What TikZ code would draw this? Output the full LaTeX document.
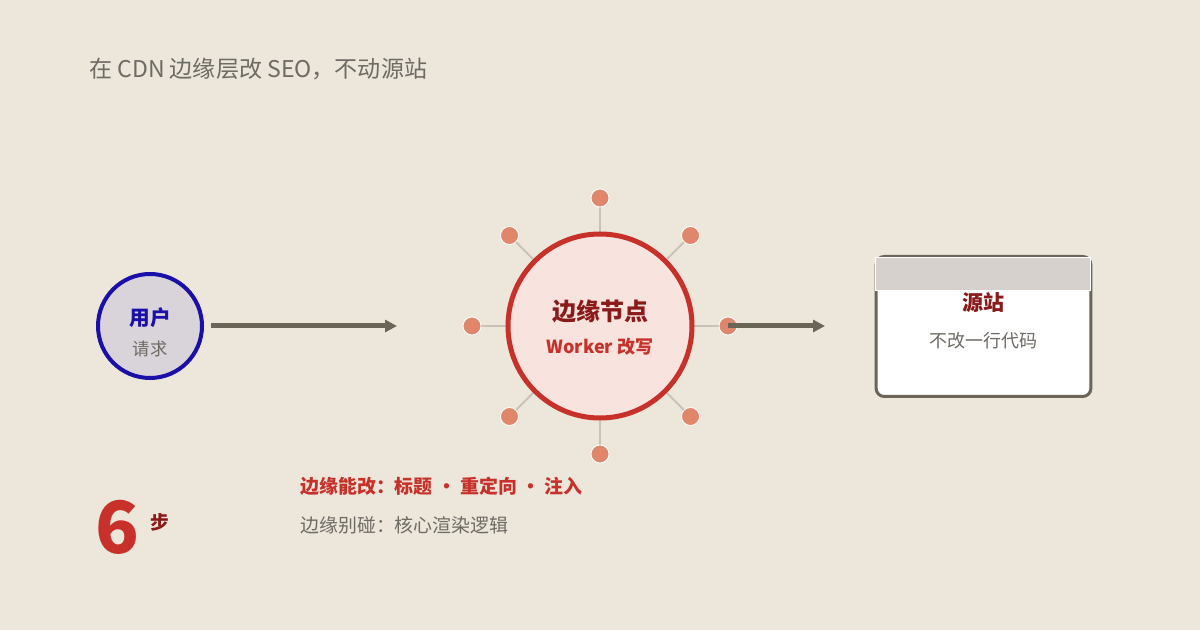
\documentclass[tikz,border=0pt]{standalone}
\usepackage{fontspec}
\setmainfont{Noto Sans CJK SC}
\newfontfamily\cjk{Noto Sans CJK SC}
\usetikzlibrary{arrows.meta,calc}
\definecolor{bg}{HTML}{ECE7DA}
\definecolor{inkgray}{HTML}{6B6558}
\definecolor{txtgray}{HTML}{6E6A64}
\definecolor{userblue}{HTML}{1A0FA8}
\definecolor{userfill}{HTML}{D9D3DA}
\definecolor{edgered}{HTML}{C8302A}
\definecolor{edgefill}{HTML}{F8E3DF}
\definecolor{darkred}{HTML}{8B1A1A}
\definecolor{dotfill}{HTML}{E0876B}
\definecolor{spoke}{HTML}{C8C2B8}
\definecolor{headgray}{HTML}{D6D1CC}
\tikzset{
  flow/.style={draw=inkgray, line width=3.75pt, -{Triangle[length=9pt,width=9pt]}},
  sat/.style={circle, fill=dotfill, draw=white, line width=0.6pt, minimum size=13.5pt, inner sep=0pt},
  spokeline/.style={draw=spoke, line width=1.5pt},
  lbl/.style={inner sep=0pt, anchor=center},
}
\begin{document}
\begin{tikzpicture}[x=0.75pt,y=-0.75pt]
\fill[bg] (0,0) rectangle (1200,630);
\useasboundingbox (0,0) rectangle (1200,630);
% title
\node[lbl, anchor=west, text=txtgray, font=\fontsize{17.3pt}{19pt}\selectfont] (title) at (89,69) {在 CDN 边缘层改 SEO，不动源站};
% user
\node[circle, draw=userblue, fill=userfill, line width=3pt, minimum size=78pt, inner sep=0pt] (user) at (150,326) {};
\node[lbl, text=userblue, font=\bfseries\fontsize{15.5pt}{16pt}\selectfont] (userT) at (150,318) {用户};
\node[lbl, text=txtgray, font=\fontsize{13pt}{14pt}\selectfont] (userS) at (150,349) {请求};
% edge node
\coordinate (ec) at (600,326);
\foreach \a [count=\i] in {0,45,90,135,180,225,270,315}{
  \draw[spokeline] ($(ec)+(\a:92)$) -- ($(ec)+(\a:128)$);
}
\node[circle, draw=edgered, fill=edgefill, line width=3.75pt, minimum size=138pt, inner sep=0pt] (edge) at (ec) {};
\foreach \a [count=\i] in {0,45,90,135,180,225,270,315}{
  \node[sat] (d\i) at ($(ec)+(\a:128)$) {};
}
\node[lbl, text=darkred, font=\bfseries\fontsize{18pt}{20pt}\selectfont] (edgeT) at (600,312) {边缘节点};
\node[lbl, text=edgered, font=\bfseries\fontsize{13.5pt}{15pt}\selectfont] (edgeS) at (600,347) {Worker 改写};
% origin box
\node[draw=inkgray, fill=white, line width=2.25pt, rounded corners=6pt, minimum width=161pt, minimum height=105pt, inner sep=0pt] (origin) at (983.5,326.5) {};
\node[fill=headgray, draw=white, line width=0.5pt, minimum width=161pt, minimum height=24.75pt, inner sep=0pt] (head) at (983,273.5) {};
\node[lbl, text=darkred, font=\bfseries\fontsize{15.75pt}{17pt}\selectfont] (originT) at (983,303) {源站};
\node[lbl, text=txtgray, font=\fontsize{13.5pt}{15pt}\selectfont] (originS) at (983,341) {不改一行代码};
% arrows
\coordinate (a1) at (397,326);
\coordinate (a2) at (825,326);
\draw[flow] ([xshift=5.5pt]user.east) -- (a1);
\draw[flow] (d1.center) -- (a2);
% bottom
\node[lbl, text=edgered, font=\bfseries\fontsize{54pt}{56pt}\selectfont] (num) at (117,527) {6};
\node[lbl, text=darkred, font=\bfseries\fontsize{14pt}{15pt}\selectfont] (bu) at (160,522) {步};
\node[lbl, anchor=west, text=edgered, font=\bfseries\fontsize{14.2pt}{16pt}\selectfont] (can) at (300,486) {边缘能改：标题 · 重定向 · 注入};
\node[lbl, anchor=west, text=txtgray, font=\fontsize{14.2pt}{16pt}\selectfont] (cannot) at (300,525) {边缘别碰：核心渲染逻辑};
\end{tikzpicture}
\end{document}
